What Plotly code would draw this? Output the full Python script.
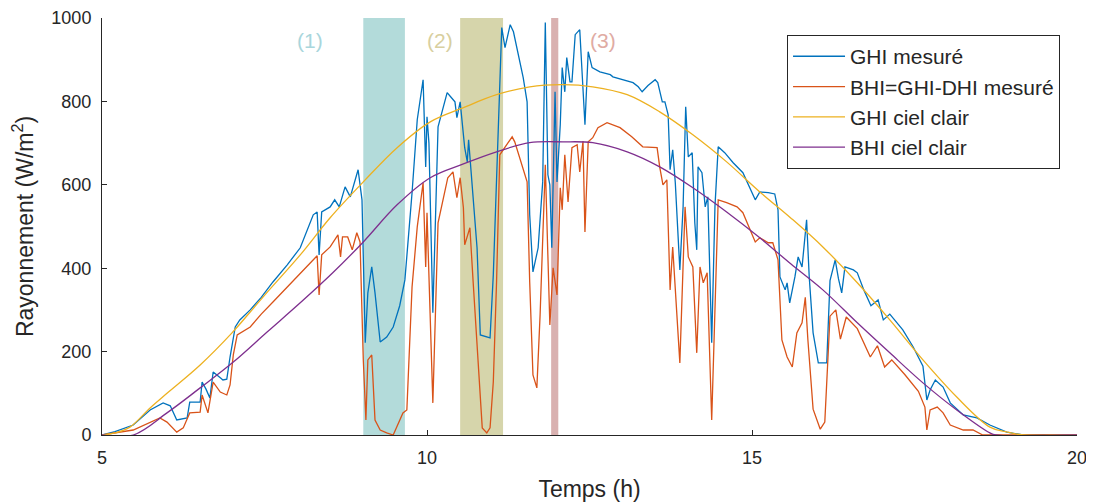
import plotly.graph_objects as go

# ---- Data ----
ghi_t = [5.0, 5.2, 5.48, 5.74, 5.94, 6.05, 6.15, 6.31, 6.35, 6.51, 6.54, 6.6, 6.66, 6.71, 6.82, 6.86, 6.92, 6.94,
         6.97, 7.05, 7.12, 7.28, 7.45, 7.63, 7.85, 8.05, 8.25, 8.31, 8.34, 8.38, 8.51, 8.58, 8.65, 8.74, 8.82,
         8.94, 9.0, 9.05, 9.09, 9.15, 9.2, 9.28, 9.38, 9.48, 9.58, 9.66, 9.77, 9.85, 9.94, 9.98, 10.0, 10.03,
         10.09, 10.17, 10.31, 10.37, 10.43, 10.46, 10.51, 10.58, 10.62, 10.64, 10.71, 10.77, 10.82, 10.97,
         11.02, 11.07, 11.15, 11.2, 11.28, 11.33, 11.43, 11.48, 11.54, 11.58, 11.63, 11.71, 11.78, 11.82,
         11.86, 11.89, 11.92, 11.97, 12.0, 12.05, 12.08, 12.12, 12.15, 12.2, 12.23, 12.28, 12.35, 12.43,
         12.48, 12.54, 12.66, 12.82, 12.86, 13.0, 13.17, 13.25, 13.31, 13.4, 13.51, 13.55, 13.62, 13.66,
         13.71, 13.74, 13.78, 13.82, 13.85, 13.89, 13.94, 13.98, 14.02, 14.08, 14.12, 14.15, 14.17, 14.23,
         14.28, 14.32, 14.38, 14.43, 14.48, 14.58, 14.71, 14.86, 15.05, 15.12, 15.25, 15.35, 15.4, 15.43,
         15.51, 15.54, 15.58, 15.66, 15.71, 15.77, 15.84, 15.88, 15.94, 16.02, 16.15, 16.2, 16.28, 16.33,
         16.38, 16.43, 16.56, 16.62, 16.72, 16.83, 16.94, 17.02, 17.12, 17.32, 17.48, 17.63, 17.69, 17.74,
         17.82, 17.94, 18.05, 18.25, 18.46, 18.66, 18.92, 19.17, 20.0]
ghi_v = [0, 8, 24, 60, 77, 70, 36, 41, 79, 79, 127, 110, 89, 151, 137, 132, 134, 161,
         187, 259, 276, 300, 330, 367, 408, 449, 528, 535, 432, 535, 547, 564, 547, 595, 571,
         636, 564, 221, 341, 403, 341, 223, 235, 259, 310, 372, 581, 756, 852, 643, 763, 700,
         293, 739, 821, 810, 799, 761, 799, 689, 655, 708, 569, 449, 240, 233,
         384, 607, 977, 929, 984, 967, 888, 857, 799, 528, 391, 449, 607, 989,
         624, 600, 449, 823, 607, 744, 881, 823, 905, 847, 847, 960, 972, 744,
         919, 881, 871, 864, 859, 852, 845, 835, 823, 838, 852, 845, 799, 799,
         768, 636, 684, 605, 499, 396, 547, 787, 667, 677, 509, 444, 643, 629,
         547, 571, 221, 547, 691, 677, 653, 629, 564, 583, 581, 578, 540, 379,
         348, 365, 317, 379, 427, 403, 516, 380, 245, 173, 173, 370, 420, 375,
         341, 403, 396, 389, 348, 310, 324, 276, 290, 252, 211, 165, 84, 108,
         132, 115, 77, 48, 41, 24, 7, 0, 0]

bhi_t = [5.0, 5.48, 5.89, 6.0, 6.15, 6.25, 6.35, 6.51, 6.54, 6.63, 6.71, 6.82, 6.92, 6.97, 7.02, 7.08, 7.28,
         7.45, 7.63, 7.85, 8.05, 8.31, 8.34, 8.38, 8.51, 8.63, 8.67, 8.7, 8.78, 8.85, 8.92, 8.97, 9.02, 9.06,
         9.09, 9.15, 9.2, 9.28, 9.38, 9.48, 9.63, 9.69, 9.77, 9.85, 9.94, 9.98, 10.0, 10.09, 10.17, 10.25,
         10.32, 10.4, 10.46, 10.51, 10.56, 10.58, 10.62, 10.66, 10.71, 10.77, 10.85, 10.92, 10.97, 11.02,
         11.07, 11.12, 11.23, 11.31, 11.35, 11.43, 11.48, 11.54, 11.58, 11.63, 11.69, 11.74, 11.82, 11.86,
         11.89, 11.94, 12.0, 12.05, 12.08, 12.12, 12.17, 12.23, 12.31, 12.35, 12.4, 12.43, 12.48, 12.55,
         12.63, 12.77, 12.97, 13.15, 13.32, 13.54, 13.58, 13.63, 13.69, 13.74, 13.78, 13.89, 13.97, 14.02,
         14.09, 14.15, 14.2, 14.25, 14.31, 14.38, 14.43, 14.48, 14.61, 14.77, 14.86, 15.05, 15.12, 15.25,
         15.32, 15.4, 15.46, 15.54, 15.62, 15.69, 15.77, 15.82, 15.86, 15.94, 16.05, 16.12, 16.2, 16.29,
         16.36, 16.45, 16.62, 16.82, 16.93, 17.04, 17.15, 17.35, 17.56, 17.66, 17.69, 17.74, 17.85, 17.94,
         18.05, 18.25, 18.4, 18.55, 20.0]
bhi_v = [0, 12, 41, 31, 7, 17, 53, 55, 96, 53, 127, 103, 96, 120, 192, 240, 259,
         290, 319, 355, 389, 430, 336, 432, 451, 480, 427, 475, 475, 444, 485, 463, 180, 36,
         180, 192, 36, 12, 5, 0, 53, 60, 355, 499, 605, 403, 533, 77, 509, 564,
         617, 631, 569, 617, 545, 456, 480, 497, 367, 209, 17, 5, 17, 127,
         367, 672, 696, 715, 703, 665, 641, 607, 367, 144, 113, 288, 648, 449,
         264, 401, 336, 593, 540, 672, 559, 689, 696, 631, 705, 487, 703, 713,
         737, 749, 737, 715, 691, 689, 643, 600, 612, 348, 451, 173, 547, 427,
         403, 197, 403, 365, 389, 36, 307, 564, 557, 547, 533, 463, 473, 461,
         461, 420, 228, 187, 163, 245, 269, 330, 228, 62, 14, 31, 285, 300,
         230, 283, 255, 187, 214, 163, 180, 145, 105, 67, 12, 60, 67, 53,
         24, 12, 12, 0, 0]

ghi_cs_t = [5.0, 5.2, 5.43, 5.74, 6.0, 6.51, 7.0, 7.28, 7.5, 8.05, 8.51, 9.02, 9.54, 10.05, 10.56, 11.07,
            11.58, 12.09, 12.55, 13.08, 13.58, 14.09, 14.61, 15.12, 15.6, 16.09, 16.62, 17.12, 17.63,
            18.15, 18.66, 18.9, 19.17, 20.0]
ghi_cs_v = [0, 5, 19, 65, 100, 168, 245, 295, 335, 432, 521, 607, 689, 751, 785, 816,
            835, 840, 835, 816, 775, 720, 655, 583, 520, 451, 365, 276, 180,
            91, 19, 8, 0, 0]

bhi_cs_t = [5.0, 5.48, 6.0, 6.51, 7.02, 7.54, 8.05, 8.55, 9.02, 9.54, 10.05, 10.56, 11.07, 11.58, 12.09,
            12.55, 13.08, 13.58, 14.09, 14.61, 15.12, 15.6, 16.09, 16.62, 17.12, 17.63, 18.15, 18.66,
            18.75, 20.0]
bhi_cs_v = [0, 0, 53, 113, 175, 247, 317, 389, 463, 552, 617, 650, 679, 701, 703,
            701, 679, 643, 593, 535, 473, 410, 348, 269, 197, 125, 60, 5,
            0, 0]

bands = [(9.02, 9.66, "#b3dbda"), (10.51, 11.17, "#d6d5ab"), (11.91, 12.02, "#d9b1b0")]
band_labels = ["(1)", "(2)", "(3)"]
label_x = [8.2, 10.2, 12.7]
label_colors = ["#a9d6dc", "#d8cf9f", "#e0aba3"]

names = ["GHI mesuré", "BHI=GHI-DHI mesuré", "GHI ciel clair", "BHI ciel clair"]
colors = ["#0072BD", "#D95319", "#EDB120", "#7E2F8E"]
shapes = ["linear", "linear", "spline", "spline"]

font_family = "Liberation Sans, Arial, sans-serif"
dark = "#262626"

fig = go.Figure()
series = [(ghi_t, ghi_v), (bhi_t, bhi_v), (ghi_cs_t, ghi_cs_v), (bhi_cs_t, bhi_cs_v)]
for i, ((t, v), n, c, s) in enumerate(zip(series, names, colors, shapes)):
    fig.add_trace(go.Scatter(x=t, y=v, mode="lines", name=n, legendgroup=str(i),
                             line=dict(color=c, width=1.3, shape=s)))

for (x0, x1, c) in bands:
    fig.add_vrect(x0=x0, x1=x1, fillcolor=c, opacity=1, line_width=0, layer="below")

for lab, lx, lc in zip(band_labels, label_x, label_colors):
    fig.add_annotation(x=lx, y=947, text=lab, showarrow=False,
                       font=dict(size=21, color=lc, family=font_family))

# page body has an 8px margin: plot area spans x 102..1077, y 18..435 in the window
fig.update_layout(
    width=1086, height=494,
    margin=dict(l=94, r=17, t=10, b=67, autoexpand=False),
    plot_bgcolor="white", paper_bgcolor="white",
    font=dict(family=font_family, color=dark),
    showlegend=True,
    legend=dict(x=0.7026, y=0.959, xanchor="left", yanchor="top",
                bgcolor="white", bordercolor=dark, borderwidth=1,
                font=dict(size=21, color=dark, family=font_family),
                traceorder="grouped", tracegroupgap=0, itemwidth=52),
    xaxis=dict(range=[5, 20], tickvals=[5, 10, 15, 20], showgrid=False, zeroline=False,
               showline=True, linecolor=dark, linewidth=1, ticks="inside", ticklen=5,
               tickcolor=dark, tickfont=dict(size=18, color=dark), ticklabeloverflow="allow",
               ticklabelstandoff=6, automargin=False,
               title=dict(text="Temps (h)", font=dict(size=23, color=dark), standoff=14)),
    yaxis=dict(range=[0, 1000], tickvals=[0, 200, 400, 600, 800, 1000], showgrid=False,
               zeroline=False, showline=True, linecolor=dark, linewidth=1, ticks="inside",
               ticklen=5, tickcolor=dark, tickfont=dict(size=18, color=dark),
               ticklabeloverflow="allow", ticklabelstandoff=6, automargin=False,
               title=dict(text="Rayonnement (W/m<sup>2</sup>)", font=dict(size=23, color=dark),
                          standoff=14)),
)

fig.write_html("out.html")
